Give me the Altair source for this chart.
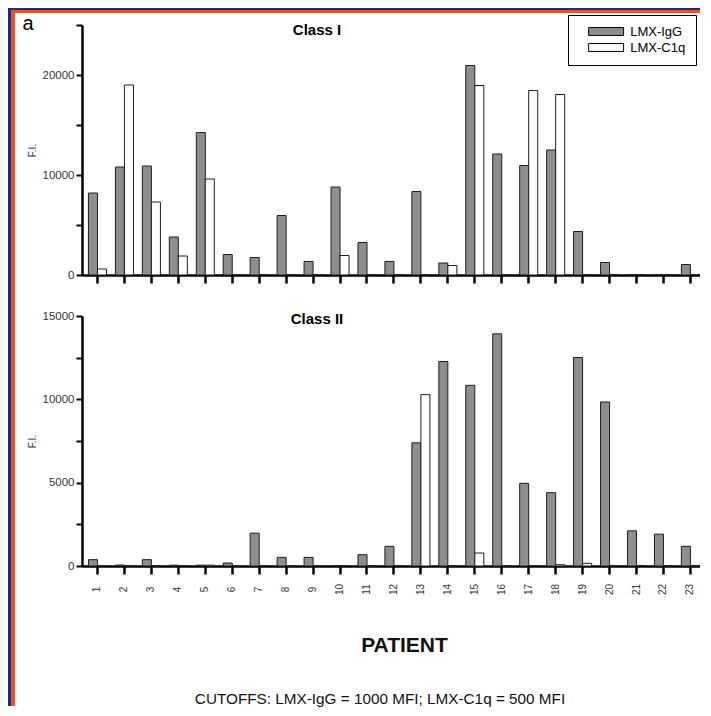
import altair as alt
import pandas as pd

# ---------------- data ----------------
patients = [str(i) for i in range(1, 24)]
series = ["LMX-IgG", "LMX-C1q"]

class1_igg = [8200, 10800, 10900, 3800, 14250, 2050, 1750, 5950, 1350, 8800, 3250, 1350,
              8350, 1200, 20950, 12100, 10950, 12500, 4350, 1250, 0, 0, 1050]
class1_c1q = [600, 19000, 7300, 1900, 9600, 0, 0, 0, 0, 1950, 0, 0,
              0, 950, 18950, 0, 18450, 18050, 0, 0, 0, 0, 0]

class2_igg = [380, 60, 380, 50, 50, 180, 1970, 520, 520, 0, 680, 1180,
              7390, 12270, 10840, 13930, 4960, 4400, 12510, 9840, 2110, 1910, 1180]
class2_c1q = [0, 0, 0, 0, 50, 0, 0, 0, 0, 0, 0, 0,
              10280, 0, 780, 0, 0, 80, 160, 0, 30, 0, 0]

panel_titles = ["Class I", "Class II"]
panel_letter = ["a"]
footnote = ["CUTOFFS:  LMX-IgG = 1000 MFI; LMX-C1q = 500 MFI"]
x_title = "PATIENT"
y_title = "F.I."

top_ticks = [0, 5000, 10000, 15000, 20000, 25000]
bottom_ticks = [0, 2500, 5000, 7500, 10000, 12500, 15000]

FONT = "Liberation Sans"
IGG_FILL = "#8e8e8e"
BLUE = "#0b2f97"
RED = "#f4521f"


def long_frame(igg, c1q):
    rows = []
    for p, a, b in zip(patients, igg, c1q):
        rows.append({"patient": p, "series": series[0], "value": a})
        rows.append({"patient": p, "series": series[1], "value": b})
    return pd.DataFrame(rows)


df1 = long_frame(class1_igg, class1_c1q)
df2 = long_frame(class2_igg, class2_c1q)

W = 618
H = 250

x_scale = alt.Scale(paddingInner=0.33, paddingOuter=0.13, align=0.92)
off_scale = alt.Scale(paddingInner=0, paddingOuter=0)
fill_scale = alt.Scale(domain=series, range=[IGG_FILL, "white"])


def y_axis(values, every):
    return alt.Axis(
        values=values,
        labelExpr=f"datum.value % {every} == 0 ? format(datum.value, 'd') : ''",
        title=y_title, titleFontSize=10, titleFontWeight="normal", titleColor="#333",
        titlePadding=5, titleFont=FONT,
        labelFontSize=11.5, labelColor="#333", labelPadding=2, labelFont=FONT,
        tickSize=6, tickWidth=2, tickColor="black",
        domainWidth=2.5, domainColor="black", grid=False,
    )


# ---------- top panel (Class I) ----------
frame_df = pd.DataFrame({"k": [0]})
stripes = [
    # (x, x2, y, y2, colour) relative to the top plot origin - decorative frame
    (-74, -71, -17, 681, BLUE),
    (-71, -67, -15, 681, RED),
    (-74, W, -17, -15, BLUE),
    (-71, W, -15, -12, RED),
]
frame_layers = [
    alt.Chart(frame_df).mark_rect().encode(
        x=alt.value(a), x2=alt.value(b), y=alt.value(c), y2=alt.value(d), fill=alt.value(col)
    )
    for a, b, c, d, col in stripes
]

bars_top = alt.Chart(df1).mark_bar(stroke="#1e1e1e", strokeWidth=1).encode(
    x=alt.X("patient:N", sort=patients, scale=x_scale,
            axis=alt.Axis(labels=False, title=None, tickSize=8, tickWidth=2.5, tickColor="black",
                          domainWidth=2.5, domainColor="black", grid=False)),
    xOffset=alt.XOffset("series:N", sort=series, scale=off_scale),
    y=alt.Y("value:Q", scale=alt.Scale(domain=[0, 25000], nice=False, zero=True),
            axis=y_axis(top_ticks, 10000)),
    fill=alt.Fill("series:N", sort=series, scale=fill_scale,
                  legend=alt.Legend(
                      title=None, orient="none", legendX=486, legendY=-10, direction="vertical",
                      symbolType="M-4,-0.9H4V0.9H-4Z", symbolSize=76.56,
                      symbolStrokeColor="black", symbolStrokeWidth=1,
                      symbolOffset=21.6, labelOffset=17.6,
                      labelFont=FONT, labelFontSize=13, labelColor="black",
                      labelExpr="datum.label + '   '",
                      padding=10, rowPadding=2, strokeColor="black")),
)

letter = alt.Chart(pd.DataFrame({"t": panel_letter})).mark_text(
    font=FONT, fontSize=20, align="center", baseline="alphabetic", color="black"
).encode(x=alt.value(-54), y=alt.value(5), text="t:N")

title_top = alt.Chart(pd.DataFrame({"t": panel_titles[:1]})).mark_text(
    font=FONT, fontSize=15, fontWeight="bold", align="center", baseline="alphabetic", color="black"
).encode(x=alt.value(235), y=alt.value(10), text="t:N")

top = alt.layer(*frame_layers, bars_top, letter, title_top).properties(width=W, height=H)

# ---------- bottom panel (Class II) ----------
bars_bottom = alt.Chart(df2).mark_bar(stroke="#1e1e1e", strokeWidth=1).encode(
    x=alt.X("patient:N", sort=patients, scale=x_scale,
            axis=alt.Axis(labelAngle=-90, labelAlign="center", labelBaseline="middle",
                          labelPadding=15, labelFontSize=10, labelColor="#333", labelFont=FONT,
                          title=x_title, titleFont=FONT, titleFontSize=21, titleFontWeight="bold",
                          titleColor="#111", titleX=322, titleY=79, titleAlign="center",
                          titleBaseline="middle",
                          tickSize=8, tickWidth=2.5, tickColor="black",
                          domainWidth=2.5, domainColor="black", grid=False)),
    xOffset=alt.XOffset("series:N", sort=series, scale=off_scale),
    y=alt.Y("value:Q", scale=alt.Scale(domain=[0, 15000], nice=False, zero=True),
            axis=y_axis(bottom_ticks, 5000)),
    fill=alt.Fill("series:N", sort=series, scale=fill_scale, legend=None),
)

title_bottom = alt.Chart(pd.DataFrame({"t": panel_titles[1:]})).mark_text(
    font=FONT, fontSize=15, fontWeight="bold", align="center", baseline="alphabetic", color="black"
).encode(x=alt.value(235), y=alt.value(8), text="t:N")

foot = alt.Chart(pd.DataFrame({"t": footnote})).mark_text(
    font=FONT, fontSize=15.3, align="center", baseline="alphabetic", color="#111"
).encode(x=alt.value(298), y=alt.value(388), text="t:N")

bottom = alt.layer(bars_bottom, title_bottom, foot).properties(width=W, height=H)

chart = (
    alt.vconcat(top, bottom, spacing=41, bounds="flush")
    .resolve_scale(y="independent", fill="independent")
    .configure(padding=0, background="white", font=FONT)
    .configure_view(stroke=None)
)

chart.save("out.html", embed_options={"renderer": "svg", "actions": False})
